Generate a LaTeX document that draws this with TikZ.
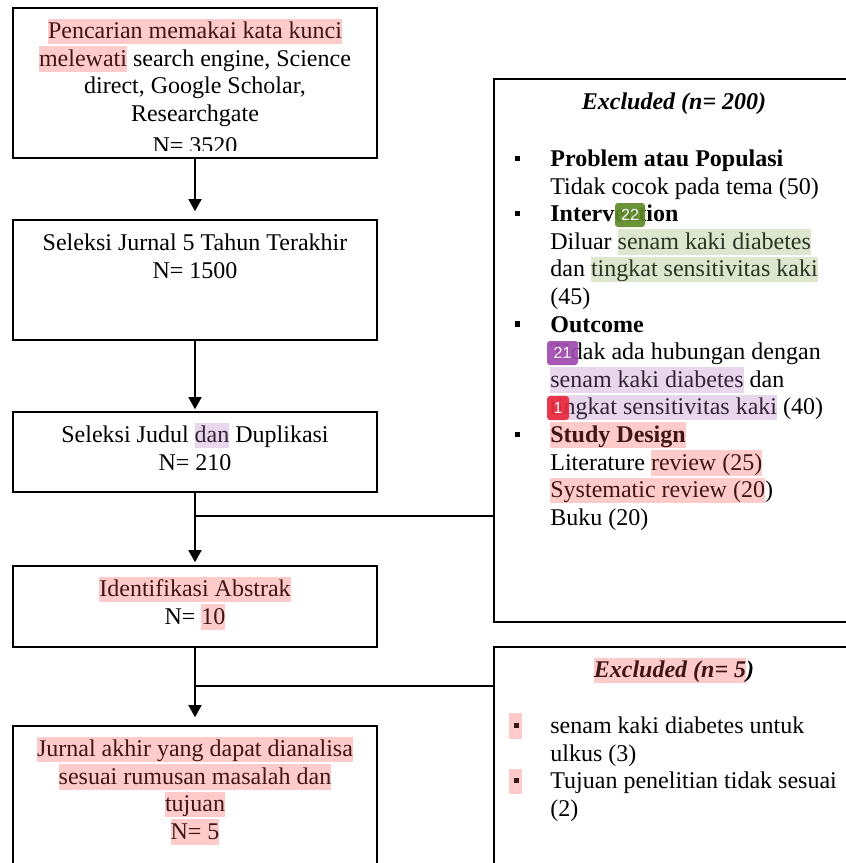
\documentclass[tikz,border=0pt]{standalone}
\usepackage{fontspec}
\setmainfont{Liberation Serif}
\newfontfamily\notefont{Liberation Sans}
\usetikzlibrary{positioning,arrows.meta}
\definecolor{hlpink}{RGB}{255,202,202}
\definecolor{hlgreen}{RGB}{221,230,206}
\definecolor{hlpurple}{RGB}{232,214,236}
\definecolor{notegreen}{RGB}{94,138,38}
\definecolor{notepurple}{RGB}{160,74,174}
\definecolor{notered}{RGB}{232,40,60}
\newcommand{\hstrut}{\rule[-2.8pt]{0pt}{12.8pt}}
\newcommand{\hlp}[1]{{\setlength{\fboxsep}{0pt}\colorbox{hlpink}{\hstrut\color[RGB]{62,22,22}#1}}}
\newcommand{\hlg}[1]{{\setlength{\fboxsep}{0pt}\colorbox{hlgreen}{\hstrut\color[RGB]{45,52,38}#1}}}
\newcommand{\hlu}[1]{{\setlength{\fboxsep}{0pt}\colorbox{hlpurple}{\hstrut\color[RGB]{50,36,52}#1}}}
\newcommand{\blt}{\makebox[0pt][r]{\rule[2.6pt]{2.8pt}{2.8pt}\hspace{15pt}}}
\newcommand{\bltp}{\makebox[0pt][r]{\hlp{\hspace{2.5pt}\rule[2.6pt]{2.8pt}{2.8pt}\hspace{1.5pt}}\hspace{14pt}}}
\tikzset{
  box/.style={draw,line width=0.8pt,minimum width=182pt},
  txt/.style={inner sep=0pt,align=center,font=\fontsize{12}{13.8}\selectfont},
  lst/.style={inner sep=0pt,align=left,anchor=north west,font=\fontsize{12}{13.8}\selectfont},
  arr/.style={line width=0.8pt,-{Triangle[width=6.5pt,length=6pt]},shorten >=1pt},
  link/.style={line width=0.8pt},
  note/.style={inner sep=0pt,rounded corners=1.5pt,minimum height=12pt,text=white,
    font=\notefont\fontsize{8}{9}\selectfont,fill opacity=0.92,text opacity=1}
}
\begin{document}
\begin{tikzpicture}[x=0.5pt,y=-0.5pt]
\useasboundingbox (0,0) rectangle (846,863);
\clip (0,0) rectangle (846,863);
\fill[white] (0,0) rectangle (846,863);

\node[box,minimum height=75pt] (cari) at (195,83) {};
\node[box,minimum height=60pt] (lima) at (195,280) {};
\node[box,minimum height=40pt] (judul) at (195,452) {};
\node[box,minimum height=40.5pt] (abstrak) at (195,606.5) {};
\node[box,minimum height=87pt] (akhir) at (195,813) {};
\node[box,minimum width=180pt,minimum height=271.5pt] (excla) at (674,350.5) {};
\node[box,minimum width=180pt,minimum height=126.5pt] (exclb) at (674,773.5) {};

\begin{scope}
\clip (cari.north west) rectangle ([yshift=4pt]cari.south east);
\node[txt,below=5.5pt of cari.north] (caritxt) {\hstrut\hlp{Pencarian memakai kata kunci}\\
  \hlp{melewati} search engine, Science\\ direct, Google Scholar,\\ Researchgate\\[2pt] N= 3520};
\end{scope}
\node[txt,below=5.5pt of lima.north] (limatxt) {\hstrut Seleksi Jurnal 5 Tahun Terakhir\\ N= 1500};
\node[txt,below=5.5pt of judul.north] (judultxt) {\hstrut Seleksi Judul \hlu{dan} Duplikasi\\ N= 210};
\node[txt,below=5.5pt of abstrak.north] (abstraktxt) {\hlp{Identifikasi Abstrak}\\ N= \hlp{10}};
\node[txt,below=5.5pt of akhir.north] (akhirtxt) {\hlp{Jurnal akhir yang dapat dianalisa}\\
  \hlp{sesuai rumusan masalah dan}\\ \hlp{tujuan}\\ \hlp{N= 5}};

\node[txt,below=5.5pt of excla.north] (exclatitle) {\hstrut\bfseries\itshape Excluded (n= 200)};
\node[lst] (exclalist) at (550,146) {\hstrut\blt\textbf{Problem atau Populasi}\\
  Tidak cocok pada tema (50)\\
  \blt\textbf{Intervention}\\
  Diluar \hlg{senam kaki diabetes}\\
  dan \hlg{tingkat sensitivitas kaki}\\
  (45)\\
  \blt\textbf{Outcome}\\
  Tidak ada hubungan dengan\\
  \hlu{senam kaki diabetes} dan\\
  \hlu{tingkat sensitivitas kaki} (40)\\
  \blt\hlp{\bfseries Study Design}\\
  Literature \hlp{review (25)}\\
  \hlp{Systematic review (20})\\
  Buku (20)};

\node[txt,below=5.5pt of exclb.north] (exclbtitle) {\hlp{\bfseries\itshape Excluded (n= 5}{\bfseries\itshape )}};
\node[lst] (exclblist) at (550,713) {\hstrut\bltp senam kaki diabetes untuk\\
  ulkus (3)\\
  \bltp Tujuan penelitian tidak sesuai\\
  (2)};

\node[note,fill=notegreen,minimum width=15pt] (cmt22) at (630,215) {22};
\node[note,fill=notepurple,minimum width=15.5pt] (cmt21) at (562.5,353) {21};
\node[note,fill=notered,minimum width=11pt] (cmt1) at (558,408) {1};

\draw[arr,shorten >=4pt] (cari) -- (lima);
\draw[arr] (lima) -- (judul);
\draw[arr,shorten >=1.5pt] (judul) -- (abstrak);
\draw[arr,shorten >=4pt] (abstrak) -- (akhir);
\coordinate (cabanga) at (195,516);
\coordinate (cabangb) at (195,686);
\draw[link] (cabanga) -- (cabanga -| excla.west);
\draw[link] (cabangb) -- (cabangb -| exclb.west);
\end{tikzpicture}
\end{document}
